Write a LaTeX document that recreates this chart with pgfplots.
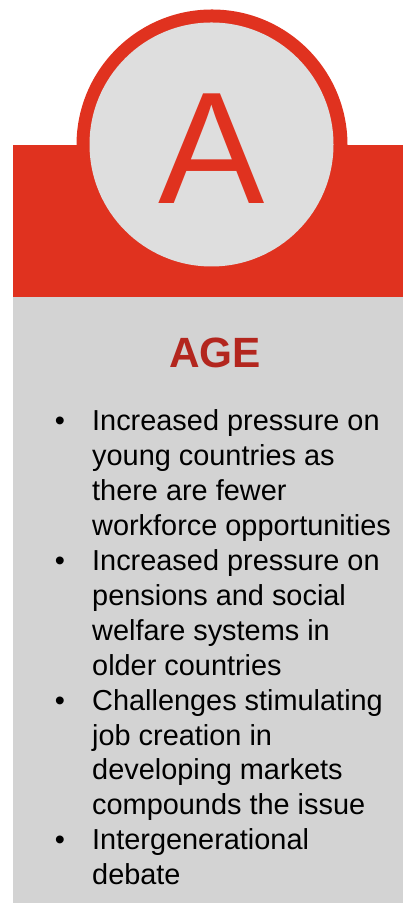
\documentclass[border=0pt]{standalone}
\usepackage{pgfplots}
\pgfplotsset{compat=1.18}
\usepackage{fontspec}
\setmainfont{Liberation Sans}
\definecolor{agered}{HTML}{E0321F}
\definecolor{agedark}{HTML}{B3261E}
\definecolor{boxgray}{HTML}{D3D3D3}
\definecolor{circgray}{HTML}{DEDEDE}
\tikzset{bl/.style={anchor=base west,inner sep=0,font=\fontsize{29}{29}\selectfont},
         bu/.style={anchor=base,inner sep=0,font=\fontsize{29}{29}\selectfont}}
\begin{document}
\begin{tikzpicture}
\begin{axis}[width=403bp,height=903bp,scale only axis,
  xmin=0,xmax=403,ymin=0,ymax=903,hide axis,clip=false]
% full page frame (invisible, fixes the bounding box)
\path (axis cs:0,0) rectangle (axis cs:403,903);
% grey body
\addplot[fill=boxgray,draw=none] coordinates {(13,0)(403,0)(403,606)(13,606)} -- cycle;
% red band
\addplot[fill=agered,draw=none] coordinates {(13,606)(403,606)(403,758)(13,758)} -- cycle;
% circle badge
\fill[agered] (axis cs:212,758) circle [radius=135.5];
\fill[circgray] (axis cs:211.5,758.5) circle [radius=122];
\node[anchor=base,inner sep=0,text=agered,font=\fontsize{160}{160}\selectfont] at (axis cs:212,699) {A};
\node[anchor=base,inner sep=0,text=agedark,font=\bfseries\fontsize{42.5}{42.5}\selectfont] at (axis cs:215.3,535) {AGE};
% bullets
\node[bu] at (axis cs:60,472) {•};
\node[bu] at (axis cs:60,332.4) {•};
\node[bu] at (axis cs:60,192.8) {•};
\node[bu] at (axis cs:60,53.2) {•};
\node[bl] at (axis cs:92,472) {Increased pressure on};
\node[bl] at (axis cs:92,437.1) {young countries as};
\node[bl] at (axis cs:92,402.2) {there are fewer};
\node[bl] at (axis cs:92,367.3) {workforce opportunities};
\node[bl] at (axis cs:92,332.4) {Increased pressure on};
\node[bl] at (axis cs:92,297.5) {pensions and social};
\node[bl] at (axis cs:92,262.6) {welfare systems in};
\node[bl] at (axis cs:92,227.7) {older countries};
\node[bl] at (axis cs:92,192.8) {Challenges stimulating};
\node[bl] at (axis cs:92,157.9) {job creation in};
\node[bl] at (axis cs:92,123) {developing markets};
\node[bl] at (axis cs:92,88.1) {compounds the issue};
\node[bl] at (axis cs:92,53.2) {Intergenerational};
\node[bl] at (axis cs:92,18.3) {debate};
\end{axis}
\end{tikzpicture}
\end{document}
